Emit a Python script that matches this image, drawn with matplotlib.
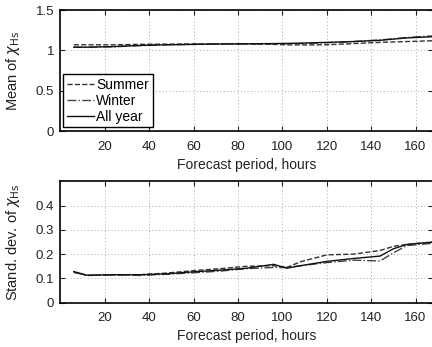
import matplotlib
matplotlib.use("Agg")
import matplotlib.pyplot as plt
from matplotlib.pyplot import rcParams

configs = {
    "font.family": "sans-serif",
    "font.sans-serif": ["Liberation Sans", "DejaVu Sans"],
    "font.size": 10,
    "mathtext.fontset": "dejavusans",
    "axes.unicode_minus": False,
}
rcParams.update(configs)

# forecast lead times (hours)
hours = [6, 12, 24, 36, 48, 60, 72, 84, 96, 102, 108, 120, 132, 144, 150, 156, 168]

# mean of chi_Hs
mean_summer = [1.07, 1.07, 1.07, 1.075, 1.078, 1.08, 1.08, 1.08, 1.075, 1.07, 1.068, 1.07, 1.085, 1.10, 1.105, 1.11, 1.12]
mean_winter = [1.04, 1.04, 1.045, 1.06, 1.07, 1.075, 1.08, 1.08, 1.082, 1.083, 1.085, 1.095, 1.11, 1.13, 1.145, 1.16, 1.18]
mean_all = [1.04, 1.04, 1.048, 1.062, 1.07, 1.075, 1.08, 1.082, 1.085, 1.087, 1.09, 1.10, 1.11, 1.125, 1.14, 1.155, 1.17]

# standard deviation of chi_Hs
std_summer = [0.125, 0.112, 0.114, 0.115, 0.122, 0.132, 0.14, 0.15, 0.152, 0.145, 0.168, 0.197, 0.200, 0.215, 0.232, 0.240, 0.250]
std_winter = [0.125, 0.112, 0.115, 0.112, 0.117, 0.123, 0.13, 0.14, 0.145, 0.145, 0.152, 0.165, 0.175, 0.172, 0.205, 0.235, 0.245]
std_all = [0.128, 0.113, 0.115, 0.115, 0.119, 0.127, 0.134, 0.142, 0.158, 0.142, 0.152, 0.170, 0.182, 0.192, 0.222, 0.240, 0.250]

series = [
    ("Summer", "--", "#333333"),
    ("Winter", "-.", "#444444"),
    ("All year", "-", "#111111"),
]


def style_axes(ax, yticks, ylim):
    ax.set_xlim(0, 168)
    ax.set_ylim(*ylim)
    ax.set_xticks([20, 40, 60, 80, 100, 120, 140, 160])
    ax.set_yticks(yticks)
    ax.grid(True, linestyle=(0, (1, 2.5)), color="#aaaaaa", linewidth=0.7)
    ax.tick_params(direction="in", length=3.5, width=0.8, top=True, right=True,
                   labelsize=9.5, colors="#222222", labelcolor="#222222")
    ax.tick_params(axis="x", pad=7)
    ax.tick_params(axis="y", pad=4.5)
    for side in ["left", "bottom", "top"]:
        ax.spines[side].set_linewidth(1.2)
        ax.spines[side].set_color("black")
    ax.spines["right"].set_visible(False)
    ax.set_xlabel("Forecast period, hours", labelpad=3.5, color="#222222")


fig = plt.figure(figsize=(4.32, 3.47), dpi=100)
ax1 = fig.add_axes([0.140, 0.622, 0.863, 0.349])
ax2 = fig.add_axes([0.140, 0.128, 0.863, 0.349])

for (name, ls, col), vals in zip(series, [mean_summer, mean_winter, mean_all]):
    ax1.plot(hours, vals, linestyle=ls, color=col, linewidth=1.0, label=name)
for (name, ls, col), vals in zip(series, [std_summer, std_winter, std_all]):
    ax2.plot(hours, vals, linestyle=ls, color=col, linewidth=1.0, label=name)

style_axes(ax1, [0, 0.5, 1, 1.5], (0, 1.5))
ax1.set_yticklabels(["0", "0.5", "1", "1.5"])
style_axes(ax2, [0, 0.1, 0.2, 0.3, 0.4], (0, 0.5))
ax2.set_yticklabels(["0", "0.1", "0.2", "0.3", "0.4"])

ax1.set_ylabel(r"Mean of $\chi_{\mathrm{Hs}}$", color="#222222", fontsize=10.5)
ax2.set_ylabel(r"Stand. dev. of $\chi_{\mathrm{Hs}}$", color="#222222", fontsize=10.5)
ax1.yaxis.set_label_coords(-0.104, 0.5)
ax2.yaxis.set_label_coords(-0.104, 0.5)

leg = ax1.legend(loc="lower left", bbox_to_anchor=(0.007, 0.033), borderaxespad=0,
                 fancybox=False, framealpha=1, edgecolor="black", handlelength=2.0,
                 handletextpad=0.15, labelspacing=0.15, borderpad=0.25, fontsize=10)
leg.get_frame().set_linewidth(1.0)

fig.savefig("out.png", dpi=100)
